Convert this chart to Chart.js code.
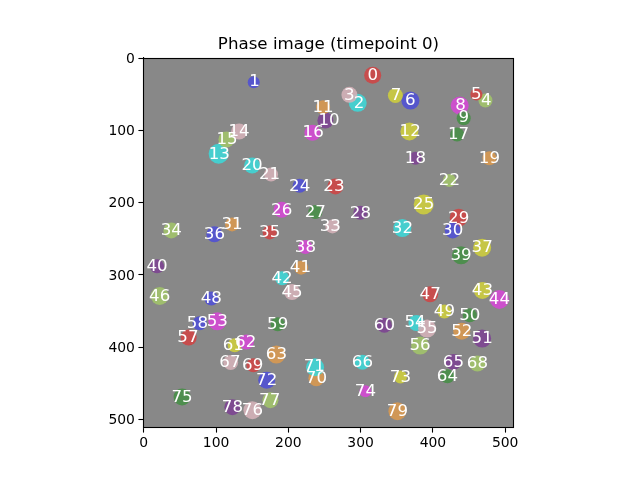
<!DOCTYPE html>
<html><head><meta charset="utf-8">
<style>html,body{margin:0;padding:0;background:#fff}canvas{display:block}</style>
<script src="https://cdn.jsdelivr.net/npm/chart.js@4"></script></head>
<body><canvas id="c" width="640" height="480"></canvas>
<script>
const cellX=[316.7,152.1,296.0,284.5,472.7,460.2,368.9,348.1,437.1,442.6,251.3,248.1,367.5,103.6,131.9,114.3,233.3,433.5,375.8,478.2,149.9,176.1,422.9,265.1,215.7,387.3,190.8,237.4,299.7,435.7,427.4,122.2,357.8,261.0,38.2,174.2,97.7,468.1,223.6,439.0,18.4,217.7,191.4,468.5,492.0,205.2,22.0,396.2,93.5,415.9,451.0,468.1,439.9,101.8,377.2,392.0,382.3,62.1,77.3,185.3,332.9,125.8,142.0,183.5,420.1,428.4,302.5,120.2,461.6,151.7,238.8,237.0,170.1,355.1,306.6,53.0,150.3,175.2,122.6,350.9];
const cellY=[23.4,33.1,61.6,50.5,58.4,50.1,58.4,51.5,65.3,82.9,86.1,67.7,101.3,132.2,101.3,112.4,103.1,105.5,138.3,138.3,148.4,160.8,169.1,177.4,176.4,202.3,209.7,213.0,213.8,220.7,238.3,230.0,235.1,232.8,238.3,241.1,243.8,262.2,261.4,272.9,288.1,289.9,304.7,321.7,333.9,323.7,329.2,326.9,332.8,350.8,355.9,388.2,378.1,364.2,366.6,374.3,397.8,386.8,367.0,368.4,369.8,397.4,392.8,410.3,440.3,420.5,420.9,421.4,422.7,425.1,443.1,427.9,445.8,441.3,461.1,469.0,487.4,473.5,483.2,488.8];
const cellRadius=[8.5,6,9,8,7,6,9,7.5,9,7,8,7,9,10,8,8,8,7,6.5,7,8,7,6.5,8,7,10,8,7,7,9,8,7,9,7,8,7,8,9,7,9,7,7,7,8.5,9.5,8,9,8,7,7,7,9,8.5,9,8,9,9,8,7,7,7.5,7,7.5,9,7,8,7.5,7.5,8,7,8,9,8.5,6.5,6,8.5,9,8,8,9];
const cellColor=[0,1,2,3,4,0,1,5,6,7,8,9,5,2,3,4,6,7,8,9,2,3,4,0,1,5,6,7,8,0,1,9,2,3,4,0,1,5,6,7,8,9,2,5,6,3,4,0,1,5,7,8,9,6,2,3,4,0,1,7,8,5,6,9,7,8,2,3,4,0,9,2,1,5,6,7,3,4,8,9];
const palette=['rgba(207,68,68,0.88)','rgba(78,78,213,0.88)','rgba(60,215,215,0.88)','rgba(213,178,184,0.88)','rgba(162,196,106,0.88)','rgba(206,206,60,0.88)','rgba(213,72,213,0.88)','rgba(70,142,70,0.88)','rgba(124,66,146,0.88)','rgba(218,152,78,0.88)'];
const labelShift={1:[1,-1],2:[2,0],4:[1,-1],7:[1,-1],8:[1,-1],9:[0,-1],10:[5,0],12:[1,0],13:[1,0],15:[1,0],16:[1,-1],17:[2,0],21:[-2,-1],23:[-2,0],33:[-3,0],41:[-1,0],54:[-2,-1],57:[-1,0],58:[-3,0],61:[-2,0],62:[-1,0],67:[-1,0],69:[-1,0],71:[-1,-1],77:[-1,0]};
const tickValues=[0,100,200,300,400,500];
const titleText='Phase image (timepoint 0)';
const fontName='"DejaVu Sans"';

const imagePlugin={id:'image',
  beforeDraw(ch){ch.scales.y.getLabelItems().forEach(l=>{l.options.translation[1]+=1;});},
  beforeDatasetsDraw(ch){const a=ch.chartArea,c=ch.ctx;c.save();c.fillStyle='#888888';c.fillRect(a.left,a.top,a.width,a.height);c.restore();},
  beforeDatasetDraw(ch){ch.ctx.save();ch.ctx.filter='blur(0.5px)';},
  afterDatasetDraw(ch){ch.ctx.restore();},
  afterDatasetsDraw(ch){const c=ch.ctx,x=ch.scales.x,y=ch.scales.y,a=ch.chartArea;c.save();
    c.fillStyle='#fff';c.font='16.67px '+fontName;c.textAlign='center';c.textBaseline='middle';
    cellX.forEach((v,i)=>{const s=labelShift[i]||[0,0];c.fillText(String(i),x.getPixelForValue(v+s[0]),y.getPixelForValue(cellY[i]+s[1])+0.5);});
    const L=Math.floor(a.left)+0.5,T=Math.floor(a.top)+0.5,R=Math.floor(a.right)+0.5,B=Math.floor(a.bottom)+0.5;
    c.strokeStyle='#000';c.lineWidth=1.1;c.strokeRect(L,T,R-L,B-T);c.restore();}
};
new Chart(document.getElementById('c'),{type:'scatter',
  data:{datasets:[{data:cellX.map((v,i)=>({x:v,y:cellY[i]})),
    pointRadius:cellRadius,pointBorderWidth:0,
    pointBackgroundColor:cellColor.map(k=>palette[k])}]},
  plugins:[imagePlugin],
  options:{responsive:false,animation:false,devicePixelRatio:1,
    layout:{padding:{left:0,right:126.5,top:0,bottom:0}},
    plugins:{legend:{display:false},tooltip:{enabled:false},
      title:{display:true,text:titleText,fullSize:false,color:'#000',font:{family:fontName,size:16.67,weight:'normal',lineHeight:1.2},padding:{top:34.5,bottom:3.5}}},
    scales:{
      x:{type:'linear',min:-0.5,max:511.5,afterBuildTicks(s){s.ticks=tickValues.map(v=>({value:v}));},afterFit(s){s.height=52.4;},
        grid:{drawOnChartArea:false,drawTicks:true,tickLength:5,tickColor:'#000',tickWidth:1.1},border:{color:'#000',width:1.1},
        ticks:{autoSkip:false,maxRotation:0,color:'#000',padding:2.3,font:{family:fontName,size:13.9}}},
      y:{type:'linear',reverse:true,min:-0.5,max:511.5,afterBuildTicks(s){s.ticks=tickValues.map(v=>({value:v}));},afterFit(s){s.width=143.4;},
        grid:{drawOnChartArea:false,drawTicks:true,tickLength:5,tickColor:'#000',tickWidth:1.1},border:{color:'#000',width:1.1},
        ticks:{autoSkip:false,color:'#000',padding:3.5,font:{family:fontName,size:13.9}}}
    }}});
</script></body></html>
